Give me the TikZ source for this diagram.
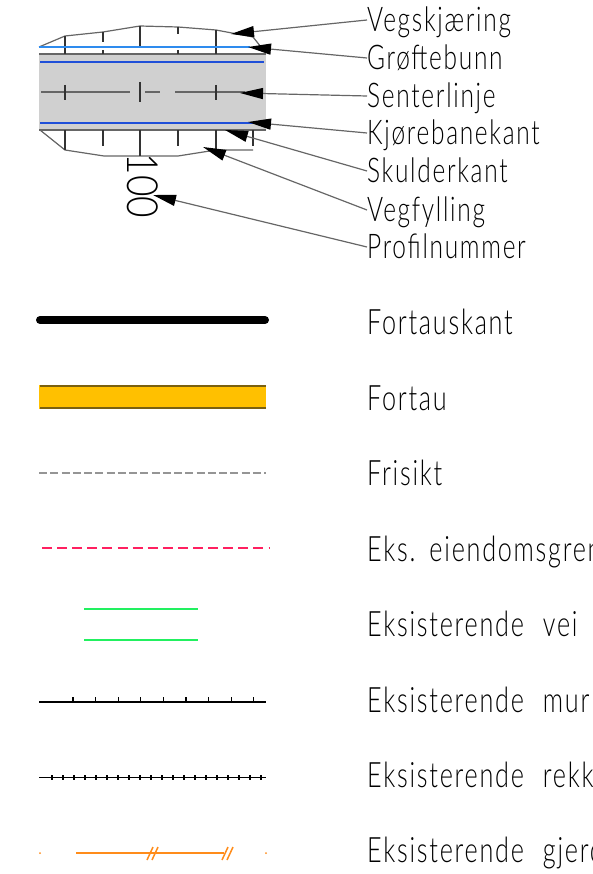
\documentclass[tikz,border=0pt]{standalone}
\usepackage{fontspec}
\setmainfont{Lato Light}[FakeStretch=0.72,LetterSpace=5]
\newfontfamily\numfont{Lato Light}[FakeStretch=0.86]
\usetikzlibrary{arrows.meta}
\definecolor{bandgrey}{HTML}{D0D0D0}
\definecolor{edgegrey}{HTML}{666666}
\definecolor{lightblue}{HTML}{2E8BEE}
\definecolor{darkblue}{HTML}{1F4FD8}
\definecolor{walkyellow}{HTML}{FFC000}
\definecolor{walkedge}{HTML}{7A6010}
\definecolor{sightgrey}{HTML}{959595}
\definecolor{propred}{HTML}{FF2060}
\definecolor{roadgreen}{HTML}{22F060}
\definecolor{fenceorange}{HTML}{FF8C1A}
\newcommand{\wgap}{\hspace{19pt}}
\tikzset{
  lab/.style={anchor=base west,inner sep=0pt,text height=23pt,text depth=0pt,font=\fontsize{34}{34}\selectfont,text=black},
  leg/.style={lab,text height=24pt,font=\fontsize{35}{35}\selectfont},
  pointer/.style={draw=edgegrey,line width=1.2pt,-{Triangle[length=23pt,width=11pt,fill=black,color=black]}},
  prof/.style={draw=edgegrey,line width=1.2pt},
  thintick/.style={draw=black!80,line width=1.1pt}
}
\begin{document}
\begin{tikzpicture}[x=1pt,y=-1pt]
\useasboundingbox (0,0) rectangle (592,874);
\clip (0,0) rectangle (592,874);
% road sample
\fill[bandgrey] (39,54) rectangle (266,130);
\draw[prof] (39,54) -- (266,54);
\draw[prof] (39,130) -- (266,130);
\draw[prof] (39,47) -- (65,36) -- (103,32) -- (140,26) -- (178,27) -- (216,30) -- (253,37) -- (265,52);
\draw[prof] (40,130) -- (65,150) -- (104,156) -- (140,156) -- (178,156) -- (216,150) -- (253,150);
\foreach \x/\a/\b in {65/36/54,140/26/47,216/30/54,65/130/150,140/130/156,216/130/150,103/130/146,178/130/146,253/130/146,103/32/42,178/27/34,103/50/54,178/50/54}
  \draw[thintick] (\x,\a) -- (\x,\b);
\draw[lightblue,line width=1.8pt] (39,47) -- (250,47);
\draw[darkblue,line width=1.8pt] (40,62) -- (264,62);
\draw[darkblue,line width=1.8pt] (40,123) -- (264,123);
\draw[edgegrey,line width=1.1pt] (41,92) -- (130,92) (145,92) -- (160,92) (175,92) -- (245,92);
\foreach \x/\a/\b in {65/85/100,140/82/102,216/85/100}
  \draw[thintick] (\x,\a) -- (\x,\b);
\node[rotate=-90,inner sep=0pt,font=\numfont\fontsize{43}{43}\selectfont,text=black] (num) at (143,186) {100};
% pointer labels
\node[lab] (l1) at (367,31.5) {Vegskjæring};
\node[lab] (l2) at (367,69.5) {Grøftebunn};
\node[lab] (l3) at (367,107.5) {Senterlinje};
\node[lab] (l4) at (367,144.5) {Kjørebanekant};
\node[lab] (l5) at (367,182.5) {Skulderkant};
\node[lab] (l6) at (367,221.5) {Vegfylling};
\node[lab] (l7) at (367,258.5) {Profilnummer};
\coordinate (t1) at (231,34);
\coordinate (t2) at (248,47);
\coordinate (t3) at (240,93);
\coordinate (t4) at (248,122);
\coordinate (t5) at (225,130);
\coordinate (t6) at (203,147);
\coordinate (t7) at (153,195);
\foreach \i in {1,...,7}
  \draw[pointer] (l\i.west) -- (t\i);
% legend
\node[leg] (a) at (367,334) {Fortauskant};
\node[leg] (b) at (367,410) {Fortau};
\node[leg] (c) at (367,485) {Frisikt};
\node[leg] (d) at (367,561) {Eks.\hspace{14pt}eiendomsgren};
\node[leg] (e) at (367,636) {Eksisterende\wgap vei};
\node[leg] (f) at (367,712) {Eksisterende\wgap mur};
\node[leg] (g) at (367,787) {Eksisterende\wgap rekk};
\node[leg] (h) at (367,862) {Eksisterende\wgap gjerd};
\draw[black,line width=8pt,line cap=round] (40,320) -- (265,320);
\fill[walkyellow] (39,385) rectangle (266,409);
\draw[walkedge,line width=1.2pt] (40,386) -- (266,386) (40,408) -- (266,408);
\draw[sightgrey,line width=2pt,dash pattern=on 8pt off 3.25pt] (39,472.5) -- (266,472.5);
\draw[propred,line width=2pt,dash pattern=on 10pt off 5.1pt] (42,548) -- (270,548);
\draw[roadgreen,line width=2pt] (84,609) -- (198,609);
\draw[roadgreen,line width=2pt] (84,640) -- (198,640);
\draw[black,line width=1.5pt] (39,702) -- (266,702);
\foreach \k in {0,...,8}
  \draw[black,line width=1.2pt] ({73+22.6*\k},697) -- ({73+22.6*\k},702);
\draw[black,line width=1.8pt] (39,777.5) -- (266,777.5);
\foreach \k in {0,...,19}
  \draw[black,line width=1.4pt] ({52+11*\k},775) -- ({52+11*\k},780);
\draw[fenceorange,line width=1.8pt] (76,853) -- (224,853);
\foreach \x in {147,152,222,227}
  \draw[fenceorange,line width=1.5pt] (\x,860) -- (\x+6,847);
\fill[fenceorange] (40,853) circle (1pt);
\fill[fenceorange] (266,853) circle (1pt);
\end{tikzpicture}
\end{document}
